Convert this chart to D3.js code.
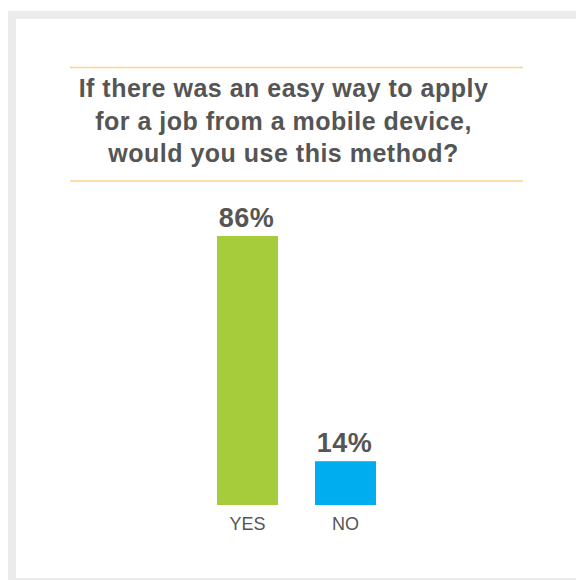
<!DOCTYPE html>
<html>
<head>
<meta charset="utf-8">
<script src="https://cdn.jsdelivr.net/npm/d3@7"></script>
<style>
  body { margin: 0; background: #fff; }
  text { font-family: "Liberation Sans", Arial, Helvetica, sans-serif; }
</style>
</head>
<body>
<div id="chart"></div>
<script>
// Data
const categories = ['YES', 'NO']
const values = [86, 14]
const valueLabels = ['86%', '14%']
const barColors = ['#a6cb3b', '#00aeef']
const titleLines = [
  'If there was an easy way to apply',
  'for a job from a mobile device,',
  'would you use this method?'
]

// Canvas
const W = 576, H = 580
const svg = d3.select('#chart')
  .append('svg')
  .attr('width', W)
  .attr('height', H)

// Gray frame
svg.append('rect').attr('x', 8).attr('y', 11).attr('width', W - 8).attr('height', H - 11).attr('fill', '#ebebeb')
svg.append('rect').attr('x', 16).attr('y', 19).attr('width', W - 16).attr('height', H - 21).attr('fill', '#fff')

// Title with orange rules
const cx = 283.5
svg.append('line').attr('x1', 70).attr('x2', 523).attr('y1', 67.5).attr('y2', 67.5)
  .attr('stroke', '#fdd28c').attr('stroke-width', 1.5)
svg.append('line').attr('x1', 70).attr('x2', 523).attr('y1', 181).attr('y2', 181)
  .attr('stroke', '#fdd28c').attr('stroke-width', 1.5)

svg.append('g').selectAll('text')
  .data(titleLines).enter()
  .append('text')
  .attr('x', cx)
  .attr('y', (d, i) => [97, 130, 162][i])
  .attr('text-anchor', 'middle')
  .attr('font-size', 25)
  .attr('font-weight', 'bold')
  .attr('letter-spacing', 0.5)
  .attr('fill', '#555')
  .text(d => d)

// Scales
const xScale = d3.scaleBand().domain(categories).range([217, 376]).paddingInner(37 / 98).paddingOuter(0)
const yScale = d3.scaleLinear().domain([0, 86]).range([505, 236])

// Bars
svg.append('g').selectAll('rect')
  .data(values).enter()
  .append('rect')
  .attr('x', (d, i) => xScale(categories[i]))
  .attr('y', d => yScale(d))
  .attr('width', xScale.bandwidth())
  .attr('height', d => yScale(0) - yScale(d))
  .attr('fill', (d, i) => barColors[i])

// Value labels
svg.append('g').selectAll('text')
  .data(values).enter()
  .append('text')
  .attr('x', (d, i) => xScale(categories[i]) + xScale.bandwidth() / 2 - 1)
  .attr('y', d => yScale(d) - 9)
  .attr('text-anchor', 'middle')
  .attr('font-size', 27)
  .attr('font-weight', 'bold')
  .attr('letter-spacing', 0.5)
  .attr('fill', '#555')
  .text((d, i) => valueLabels[i])

// Category axis labels
const xAxis = d3.axisBottom(xScale).tickSize(0).tickPadding(12)
svg.append('g')
  .attr('transform', `translate(0, ${yScale(0)})`)
  .call(xAxis)
  .call(g => g.select('.domain').remove())
  .call(g => g.selectAll('text')
    .attr('font-size', 18)
    .attr('fill', '#555')
    .attr('font-family', '"Liberation Sans", Arial, sans-serif'))
</script>
</body>
</html>
